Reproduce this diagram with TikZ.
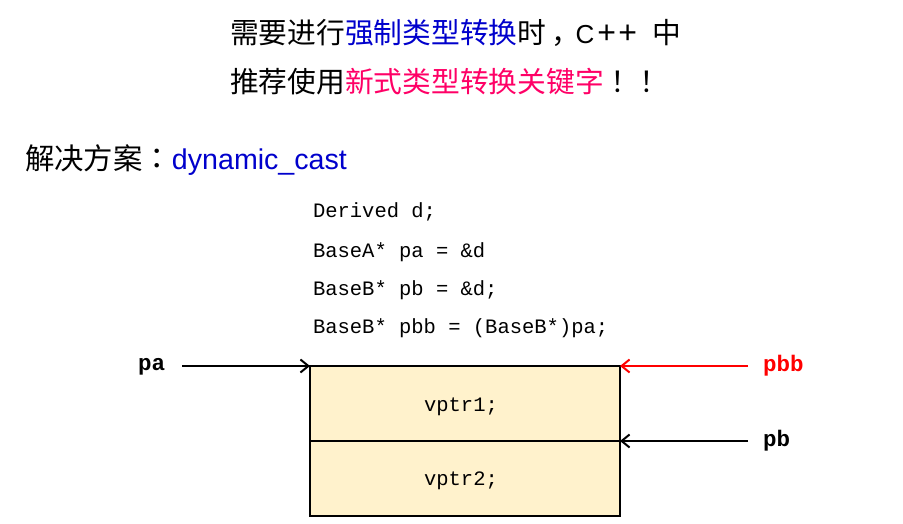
\documentclass[tikz,border=0pt]{standalone}
\usepackage{fontspec}
\setmainfont{Liberation Sans}
\newfontfamily\cjk{Noto Sans CJK SC}
\newfontfamily\cjkjp{Noto Sans CJK JP}
\newfontfamily\cjkprop[RawFeature=+palt]{Noto Sans CJK SC}
\newfontfamily\codefont{Liberation Mono}
\usetikzlibrary{arrows.meta}
\definecolor{kwblue}{HTML}{0000CC}
\definecolor{kwpink}{HTML}{FF0066}
\definecolor{boxfill}{HTML}{FFF2CC}
\definecolor{ptrred}{HTML}{FF0000}
\begin{document}
\begin{tikzpicture}[x=1pt,y=-1pt,
  txt/.style={anchor=base west,inner sep=0pt,outer sep=0pt},
  head/.style={txt,font=\cjk\fontsize{28.75}{30}\selectfont},
  codeline/.style={txt,font=\codefont\fontsize{20.5}{22}\selectfont},
  ptrlabel/.style={txt,font=\codefont\bfseries\fontsize{22.5}{24}\selectfont},
  cell/.style={draw=black,line width=2pt,fill=boxfill,minimum width=310pt,minimum height=75pt,inner sep=0pt,outer sep=0pt},
  arr/.style={line width=2pt,-{Straight Barb[length=8pt,width=13pt,line width=2pt]}}
]
\useasboundingbox (0,0) rectangle (903,524);
% heading
\node[head] (l1) at (230,44) {需要进行\textcolor{kwblue}{强制类型转换}时\makebox[28.75pt][c]{\cjkprop ，}\hspace{0.7pt}{\rmfamily\fontsize{26}{26}\selectfont C}\hspace{3pt}{\rmfamily\fontsize{32}{32}\selectfont +\hspace{2.3pt}+}\hspace{15.8pt}中};
\node[head] (l2) at (230,93) {推荐使用\textcolor{kwpink}{新式类型转换关键字}{\cjkjp ！！}};
\node[txt] (sol) at (25,170) {{\cjk\fontsize{29.4}{30}\selectfont 解决方案}{\cjkjp\fontsize{29.4}{30}\selectfont ：}{\fontsize{28.6}{30}\selectfont\textcolor{kwblue}{dynamic\_cast}}};
% code
\node[codeline] (c1) at (313,217.7) {Derived d;};
\node[codeline] (c2) at (313,257) {BaseA* pa = \&d};
\node[codeline] (c3) at (313,295) {BaseB* pb = \&d;};
\node[codeline] (c4) at (313,333) {BaseB* pbb = (BaseB*)pa;};
% object layout
\node[cell] (cell1) at (465,403.5) {};
\node[cell] (cell2) at (465,478.5) {};
\node[codeline,anchor=base] (v1) at (461,411.7) {vptr1;};
\node[codeline,anchor=base] (v2) at (461,485) {vptr2;};
% pointers
\node[ptrlabel] (pa) at (138,370) {pa};
\node[ptrlabel,text=ptrred] (pbb) at (763,371.7) {pbb};
\node[ptrlabel] (pb) at (763,446.7) {pb};
\coordinate (paS) at (182,366);
\coordinate (pbbS) at (748,366);
\coordinate (pbS) at (748,441);
\draw[arr] (paS) -- (cell1.north west);
\draw[arr,draw=ptrred] (pbbS) -- (cell1.north east);
\draw[arr] (pbS) -- (cell1.south east);
\end{tikzpicture}
\end{document}
